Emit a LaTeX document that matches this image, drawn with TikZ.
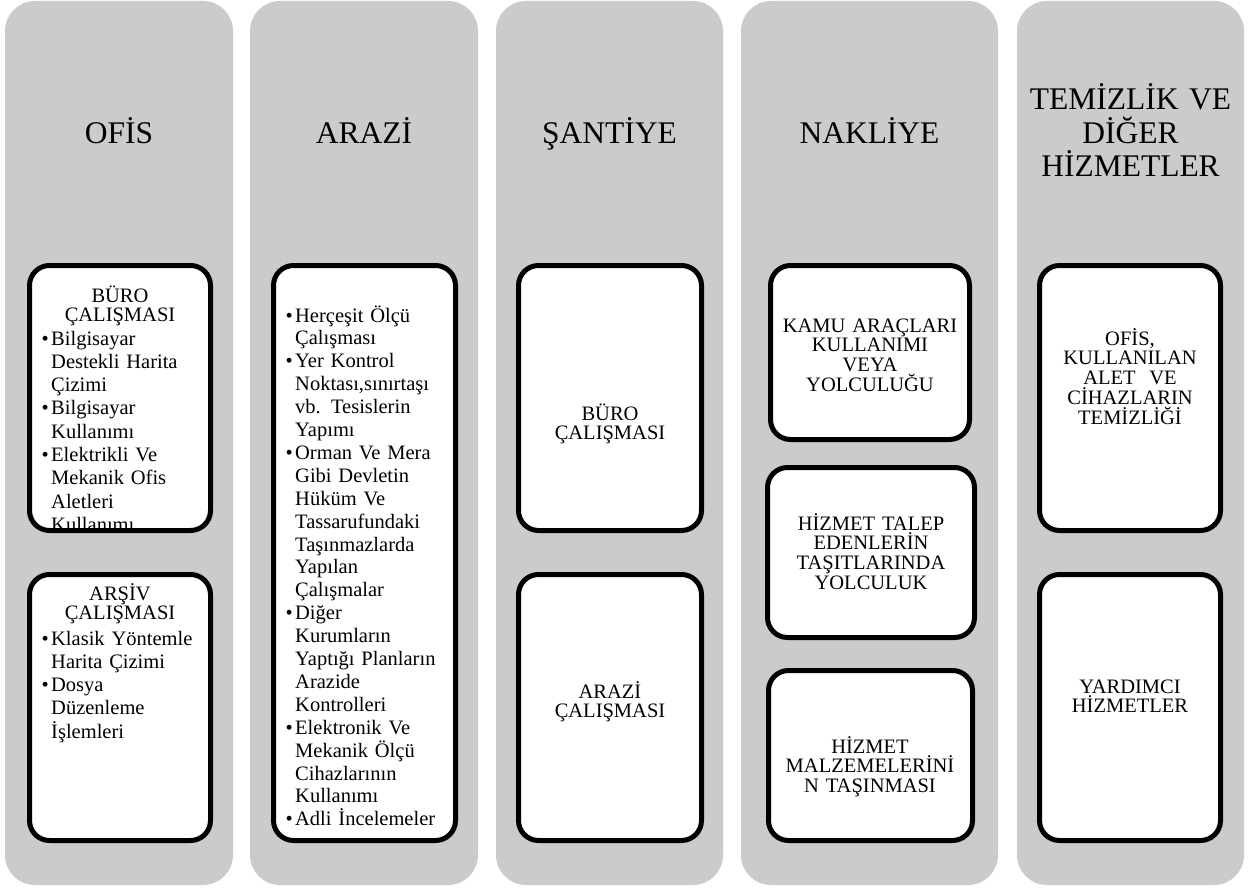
\documentclass[tikz,border=0pt]{standalone}
\usepackage{fontspec}
\setmainfont{Liberation Serif}
\definecolor{colgray}{HTML}{CBCBCB}
\newcommand\bul{\makebox[9.5pt][l]{•}}
\newcommand\ind{\hspace*{9.5pt}}
\begin{document}
\begin{tikzpicture}[x=1pt,y=-1pt,
  colbox/.style={fill=colgray, rounded corners=30pt},
  ibox/.style={draw=black, fill=white, line width=5pt, rounded corners=20pt},
  hd/.style={font=\fontsize{31.5}{33.5}\selectfont, align=center, text width=226pt, anchor=base, inner sep=0pt},
  tt/.style={font=\fontsize{20.5}{19.8}\selectfont, align=center, text width=200pt, anchor=base, inner sep=0pt},
  bl/.style={font=\fontsize{20.5}{23.3}\selectfont, align=left, text width=175pt, anchor=base west, inner sep=0pt}]
\useasboundingbox (0,0) rectangle (1248,891);
% columns
\fill[colbox] (5,1) rectangle (233,885);
\fill[colbox] (250,1) rectangle (478,885);
\fill[colbox] (496,1) rectangle (723,885);
\fill[colbox] (741,1) rectangle (998,885);
\fill[colbox] (1017,1) rectangle (1244,885);
% headers
\node[hd] (h1) at (119,143) {OFİS};
\node[hd] (h2) at (364,143) {ARAZİ};
\node[hd] (h3) at (609.5,143) {ŞANTİYE};
\node[hd] (h4) at (869.5,143) {NAKLİYE};
\node[hd] (h5) at (1130.5,110) {TEMİZLİK VE\\DİĞER\\HİZMETLER};
% inner boxes
\draw[ibox] (29.5,265.5) rectangle (210.5,530.5);
\draw[ibox] (29.5,574.5) rectangle (210.5,840.5);
\draw[ibox] (273.5,265.5) rectangle (455.5,840.5);
\draw[ibox] (518.5,265.5) rectangle (701.5,530.5);
\draw[ibox] (518.5,574.5) rectangle (701.5,840.5);
\draw[ibox] (770.5,265.5) rectangle (969.5,439.5);
\draw[ibox] (767.5,467.5) rectangle (974.5,637.5);
\draw[ibox] (768.5,670.5) rectangle (972.5,840.5);
\draw[ibox] (1039.5,265.5) rectangle (1220.5,530.5);
\draw[ibox] (1039.5,574.5) rectangle (1220.5,840.5);
% OFIS texts
\node[tt] (o1t) at (120,302) {BÜRO\\ÇALIŞMASI};
\node[bl] (o1b) at (41.5,345) {\bul Bilgisayar\\\ind Destekli Harita\\\ind Çizimi\\\bul Bilgisayar\\\ind Kullanımı\\\bul Elektrikli Ve\\\ind Mekanik Ofis\\\ind Aletleri\\\ind Kullanımı};
\node[tt] (o2t) at (120,600) {ARŞİV\\ÇALIŞMASI};
\node[bl] (o2b) at (41.5,645) {\bul Klasik Yöntemle\\\ind Harita Çizimi\\\bul Dosya\\\ind Düzenleme\\\ind İşlemleri};
% ARAZI texts
\node[bl, font=\fontsize{20.5}{22.9}\selectfont] (a1b) at (285.5,322) {\bul Herçeşit Ölçü\\\ind Çalışması\\\bul Yer Kontrol\\\ind Noktası,sınırtaşı\\\ind vb. Tesislerin\\\ind Yapımı\\\bul Orman Ve Mera\\\ind Gibi Devletin\\\ind Hüküm Ve\\\ind Tassarufundaki\\\ind Taşınmazlarda\\\ind Yapılan\\\ind Çalışmalar\\\bul Diğer\\\ind Kurumların\\\ind Yaptığı Planların\\\ind Arazide\\\ind Kontrolleri\\\bul Elektronik Ve\\\ind Mekanik Ölçü\\\ind Cihazlarının\\\ind Kullanımı\\\bul Adli İncelemeler};
% SANTIYE texts
\node[tt] (s1) at (610,420) {BÜRO\\ÇALIŞMASI};
\node[tt] (s2) at (610,698) {ARAZİ\\ÇALIŞMASI};
% NAKLIYE texts
\node[tt] (n1) at (870,332) {KAMU ARAÇLARI\\KULLANIMI\\VEYA\\YOLCULUĞU};
\node[tt] (n2) at (871,530) {HİZMET TALEP\\EDENLERİN\\TAŞITLARINDA\\YOLCULUK};
\node[tt] (n3) at (870,753) {HİZMET\\MALZEMELERİNİ\\N TAŞINMASI};
% TEMIZLIK texts
\node[tt] (t1) at (1130,345) {OFİS,\\KULLANILAN\\ALET\ \ VE\\CİHAZLARIN\\TEMİZLİĞİ};
\node[tt] (t2) at (1130,693) {YARDIMCI\\HİZMETLER};
\end{tikzpicture}
\end{document}
